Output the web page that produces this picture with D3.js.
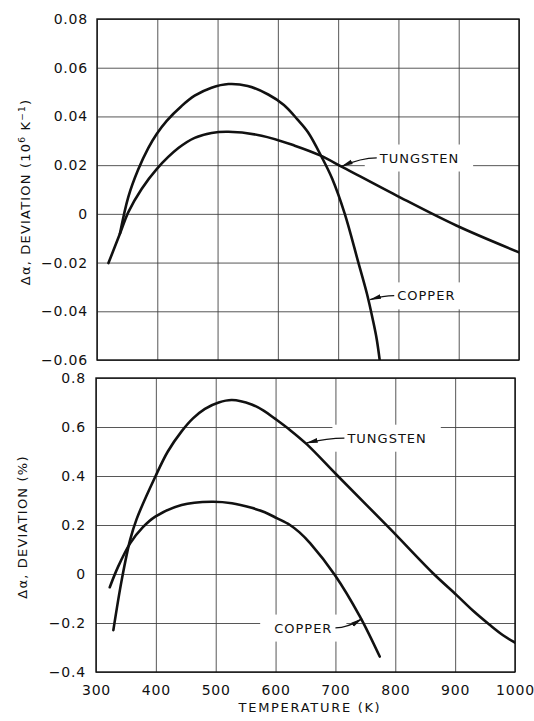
<!DOCTYPE html>
<html>
<head>
<meta charset="utf-8">
<script src="https://cdn.jsdelivr.net/npm/d3@7"></script>
<style>
  body { margin: 0; background: #fff; }
  svg { display: block; }
  text { font-family: "DejaVu Sans", sans-serif; fill: #111; }
</style>
</head>
<body>
<div id="chart"></div>
<script>
// ---- data ----
const tempTicks = [300, 400, 500, 600, 700, 800, 900, 1000];
const topDevTicks = [-0.06, -0.04, -0.02, 0, 0.02, 0.04, 0.06, 0.08];
const pctDevTicks = [-0.4, -0.2, 0, 0.2, 0.4, 0.6, 0.8];

// upper panel: deviation in 10^6 K^-1
const tungstenTopT = [319, 338, 352, 374, 399, 435, 462, 490, 518, 573, 628, 670, 708, 797, 896, 1000];
const tungstenTopV = [-0.0202, -0.0082, 0.0007, 0.0102, 0.0184, 0.0270, 0.0312, 0.0332, 0.0337, 0.0321, 0.0280, 0.0240, 0.0191, 0.0075, -0.0048, -0.0158];
const copperTopT = [338, 352, 368, 385, 399, 416, 440, 462, 490, 518, 550, 584, 610, 632, 650, 673, 690, 711, 733, 748, 758, 764, 771];
const copperTopV = [-0.0082, 0.0070, 0.0180, 0.0270, 0.0328, 0.0383, 0.0442, 0.0485, 0.0518, 0.0533, 0.0525, 0.0490, 0.0447, 0.0389, 0.0335, 0.0232, 0.0145, 0.0, -0.0195, -0.0330, -0.0440, -0.0515, -0.0640];

// lower panel: deviation in %
const tungstenPctT = [329, 343, 357, 368, 399, 420, 443, 462, 482, 505, 527, 560, 580, 599, 624, 652, 702, 791, 863, 902, 930, 958, 980, 1000];
const tungstenPctV = [-0.229, -0.024, 0.139, 0.225, 0.397, 0.500, 0.582, 0.635, 0.674, 0.700, 0.710, 0.692, 0.667, 0.634, 0.588, 0.530, 0.405, 0.185, 0.003, -0.085, -0.150, -0.208, -0.250, -0.280];
const copperPctT = [323, 337, 357, 378, 399, 443, 493, 527, 560, 582, 602, 624, 640, 658, 699, 741, 774];
const copperPctV = [-0.054, 0.030, 0.125, 0.190, 0.234, 0.282, 0.295, 0.289, 0.270, 0.252, 0.228, 0.200, 0.170, 0.125, -0.004, -0.174, -0.337];

// curve labels: [label, text anchor T, V, arrow head T, V, anchor side]
const topLabels = [
  ["TUNGSTEN", 769, 0.023, 706, 0.0195, "start"],
  ["COPPER", 798, -0.0336, 753, -0.0352, "start"]
];
const pctLabels = [
  ["TUNGSTEN", 720, 0.555, 652, 0.535, "start"],
  ["COPPER", 695, -0.220, 744, -0.183, "end"]
];

const zip = (ts, vs) => ts.map((t, i) => ({t: t, v: vs[i]}));

const W = 534, H = 721;
const svg = d3.select("#chart").append("svg").attr("width", W).attr("height", H);

const defs = svg.append("defs");
defs.append("marker").attr("id", "head")
  .attr("viewBox", "0 0 12 6").attr("refX", 11).attr("refY", 3)
  .attr("markerWidth", 12).attr("markerHeight", 6)
  .attr("markerUnits", "userSpaceOnUse").attr("orient", "auto")
  .append("path").attr("d", "M0,0.6 L12,3 L0,5.4 Z").attr("fill", "#111");

function panel(opts) {
  const x = d3.scaleLinear().domain([300, 1000]).range(opts.xr);
  const y = d3.scaleLinear().domain(opts.yd).range(opts.yr);
  const g = svg.append("g");
  const gridG = g.append("g");
  const patchG = g.append("g");
  const frameG = g.append("g");
  const curveG = g.append("g").attr("clip-path", `url(#${opts.id})`);
  const labelG = g.append("g");

  defs.append("clipPath").attr("id", opts.id).append("rect")
    .attr("x", opts.xr[0]).attr("y", opts.yr[1])
    .attr("width", opts.xr[1] - opts.xr[0]).attr("height", opts.yr[0] - opts.yr[1]);

  // grid + tick labels
  const gx = gridG.append("g").attr("transform", `translate(0,${opts.yr[0]})`)
    .call(d3.axisBottom(x).tickValues(tempTicks)
      .tickSize(-(opts.yr[0] - opts.yr[1]))
      .tickPadding(13)
      .tickFormat(opts.showX ? d3.format("d") : ""));
  const gy = gridG.append("g").attr("transform", `translate(${opts.xr[0]},0)`)
    .call(d3.axisLeft(y).tickValues(opts.ticks)
      .tickSize(-(opts.xr[1] - opts.xr[0]))
      .tickPadding(opts.pad)
      .tickFormat(d => d === 0 ? "0" : d3.format(opts.fmt)(d)));
  [gx, gy].forEach(a => {
    a.select(".domain").remove();
    a.selectAll(".tick line").attr("stroke", "#444").attr("stroke-width", 0.9);
    a.selectAll(".tick text").attr("font-size", 14).attr("letter-spacing", 0.8)
      .attr("fill", "#111").attr("font-family", "DejaVu Sans, sans-serif");
  });

  // frame
  frameG.append("rect")
    .attr("x", opts.xr[0]).attr("y", opts.yr[1])
    .attr("width", opts.xr[1] - opts.xr[0]).attr("height", opts.yr[0] - opts.yr[1])
    .attr("fill", "none").attr("stroke", "#111").attr("stroke-width", 1.4);

  // curves
  const line = d3.line().x(d => x(d.t)).y(d => y(d.v)).curve(d3.curveCatmullRom.alpha(0.5));
  opts.series.forEach(s => {
    curveG.append("path").datum(s).attr("d", line)
      .attr("fill", "none").attr("stroke", "#111").attr("stroke-width", 2.6)
      .attr("stroke-linejoin", "round").attr("stroke-linecap", "round");
  });

  // curve labels, with white patches where the gridlines break
  const labs = labelG.selectAll("text").data(opts.labels).join("text")
    .attr("x", d => x(d[1])).attr("y", d => y(d[2]))
    .attr("dy", "0.36em")
    .attr("text-anchor", d => d[5])
    .attr("font-size", 13).attr("letter-spacing", 1)
    .text(d => d[0]);
  labs.each(function() {
    const b = this.getBBox();
    patchG.append("rect")
      .attr("x", b.x - 14).attr("y", b.y - 6)
      .attr("width", b.width + 28).attr("height", b.height + 12)
      .attr("fill", "#fff");
  });

  // arrows from labels to curves
  labelG.selectAll("path").data(opts.labels).join("path")
    .attr("d", d => {
      const x0 = x(d[1]) + (d[5] === "start" ? -3 : 3), y0 = y(d[2]);
      const x1 = x(d[3]), y1 = y(d[4]);
      const cx = x0 + (x1 - x0) * 0.45, cy = y0;
      return `M${x0},${y0} Q${cx},${cy} ${x1},${y1}`;
    })
    .attr("fill", "none").attr("stroke", "#111").attr("stroke-width", 1.3)
    .attr("marker-end", "url(#head)");
  return g;
}

panel({
  id: "clipTop",
  xr: [97, 519], yr: [360, 19], yd: [-0.06, 0.08], ticks: topDevTicks,
  fmt: ".2f", pad: 9, showX: false,
  series: [zip(tungstenTopT, tungstenTopV), zip(copperTopT, copperTopV)],
  labels: topLabels
});
panel({
  id: "clipPct",
  xr: [96, 515], yr: [672, 378], yd: [-0.4, 0.8], ticks: pctDevTicks,
  fmt: ".1f", pad: 10, showX: true,
  series: [zip(tungstenPctT, tungstenPctV), zip(copperPctT, copperPctV)],
  labels: pctLabels
});

// axis titles
const topTitle = svg.append("text")
  .attr("transform", "translate(25,192) rotate(-90)")
  .attr("text-anchor", "middle").attr("dy", "0.36em")
  .attr("font-size", 13).attr("letter-spacing", 1.2);
topTitle.append("tspan").text("Δα, DEVIATION  (10");
topTitle.append("tspan").attr("baseline-shift", "super").attr("font-size", 9).text("6");
topTitle.append("tspan").text(" K");
topTitle.append("tspan").attr("baseline-shift", "super").attr("font-size", 9).text("−1");
topTitle.append("tspan").text(")");

svg.append("text")
  .attr("transform", "translate(22,527) rotate(-90)")
  .attr("text-anchor", "middle").attr("dy", "0.36em")
  .attr("font-size", 13).attr("letter-spacing", 1.2)
  .text("Δα, DEVIATION  (%)");

svg.append("text")
  .attr("x", 310).attr("y", 707).attr("dy", "0.36em")
  .attr("text-anchor", "middle")
  .attr("font-size", 13).attr("letter-spacing", 1.7)
  .text("TEMPERATURE (K)");
</script>
</body>
</html>
